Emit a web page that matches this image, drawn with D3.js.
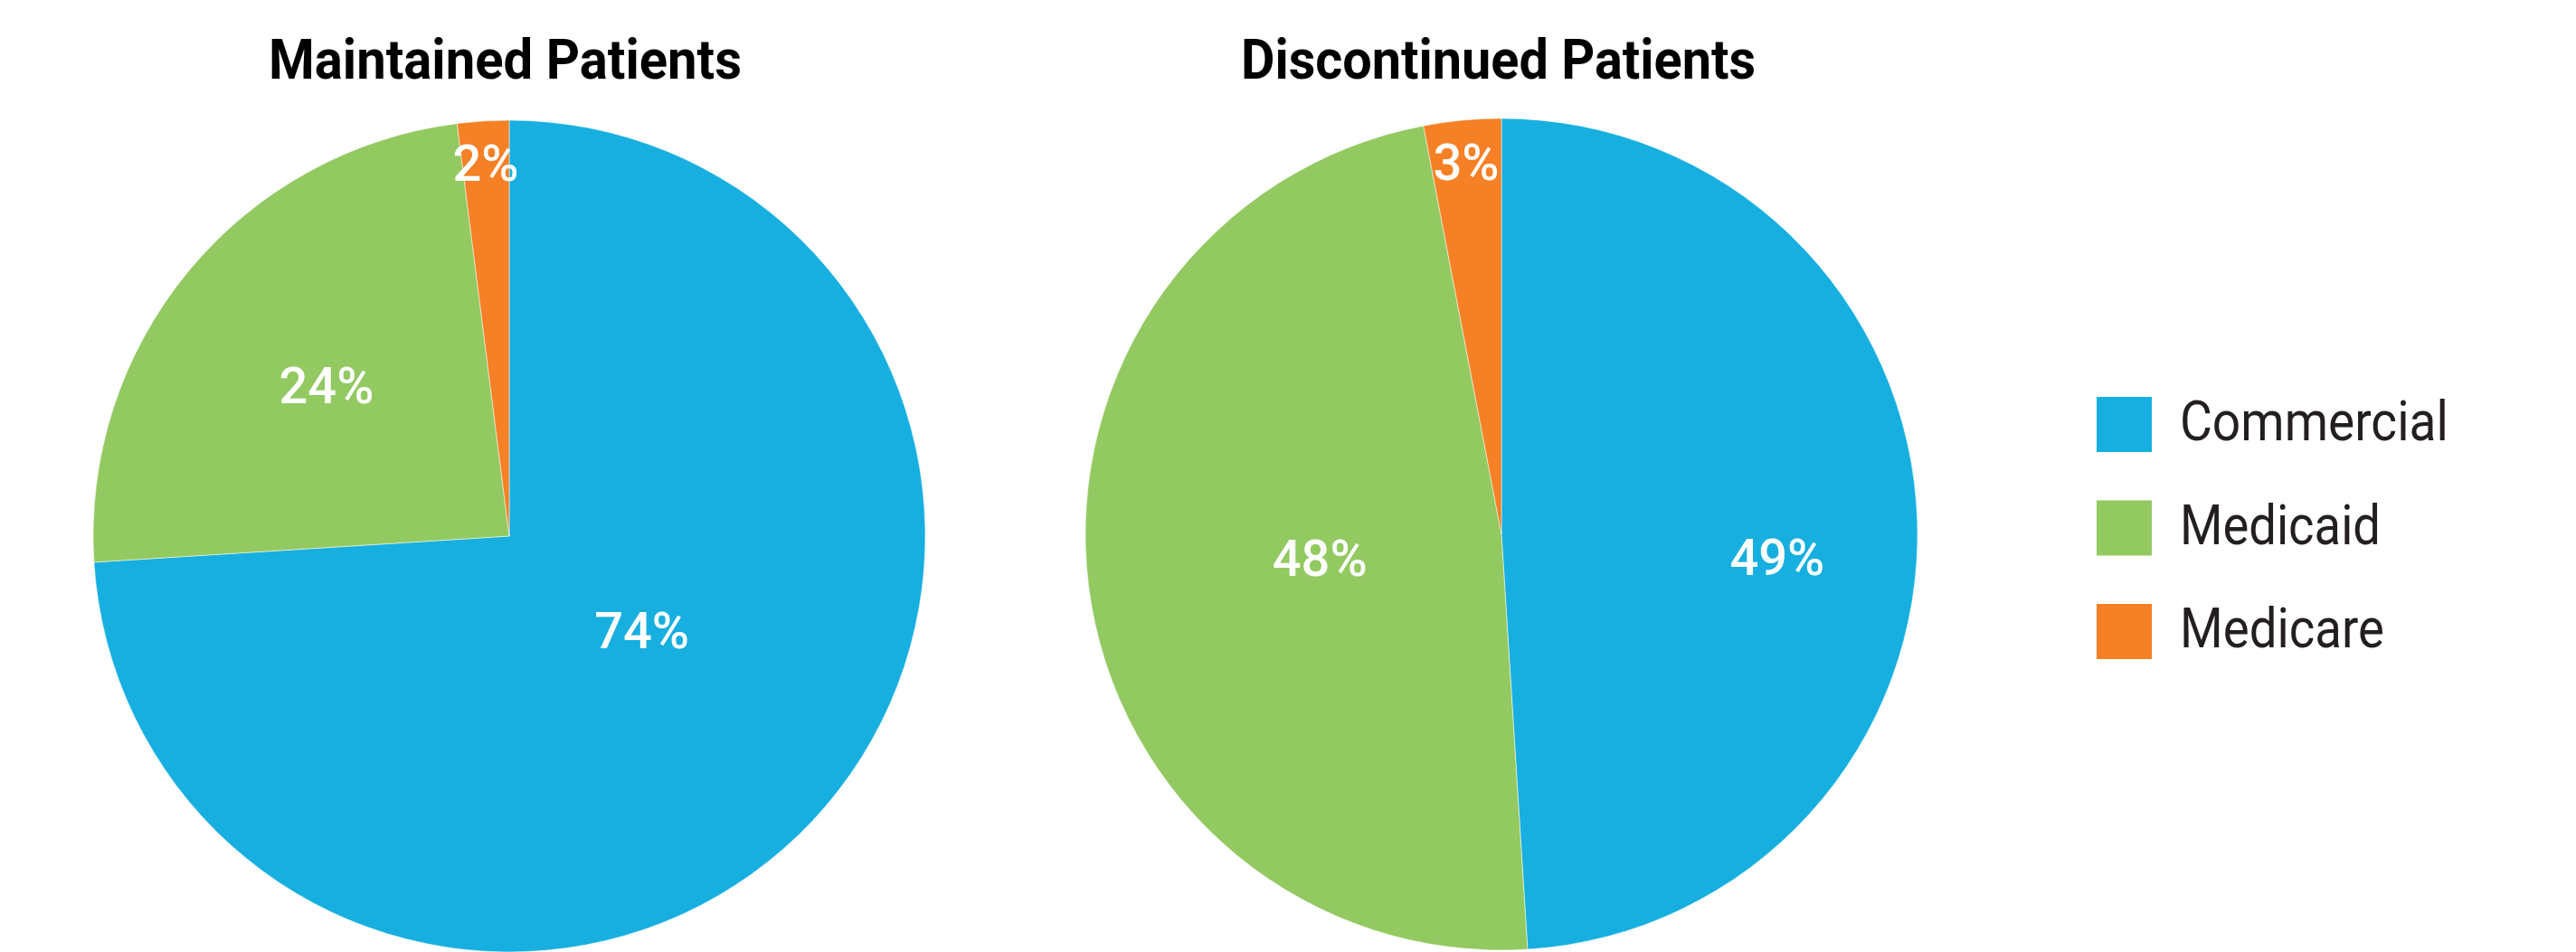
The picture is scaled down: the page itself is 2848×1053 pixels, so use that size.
<!DOCTYPE html>
<html>
<head>
<meta charset="utf-8">
<script src="https://cdn.jsdelivr.net/npm/d3@7"></script>
<style>
  html, body { margin: 0; padding: 0; background: #ffffff; }
  svg { display: block; }
</style>
</head>
<body>
<svg id="chart"></svg>
<script>
// categories and values (percent)
var categories = ["Commercial", "Medicaid", "Medicare"];
var colors = ["#17afdf", "#92c961", "#f58025"];
var chartTitles = ["Maintained Patients", "Discontinued Patients"];
var maintained = [74, 24, 2];
var discontinued = [49, 48, 3];

var width = 2848;
var height = 1053;
var radius = 460;

var svg = d3.select("#chart")
    .attr("width", width)
    .attr("height", height);

var pie = d3.pie().sort(null).value(function(d) { return d; });
var arc = d3.arc().innerRadius(0).outerRadius(radius);

// layout for each pie (centre, title, label radius as share of R, label angle nudge in degrees)
var charts = [
    { title: chartTitles[0], values: maintained, cx: 563, cy: 593, titleX: 297, titleW: 523,
      labelR: [0.39, 0.57, 0.9], labelNudge: [-8, 0, 0] },
    { title: chartTitles[1], values: discontinued, cx: 1660, cy: 591, titleX: 1372, titleW: 569,
      labelR: [0.665, 0.44, 0.9], labelNudge: [6.5, 0, 0] }
];

charts.forEach(function(c) {
    var g = svg.append("g")
        .attr("transform", "translate(" + c.cx + "," + c.cy + ")");

    var slices = pie(c.values);

    g.selectAll("path")
        .data(slices)
        .enter().append("path")
        .attr("d", arc)
        .attr("fill", function(d, i) { return colors[i]; })
        .attr("stroke", "#ffffff")
        .attr("stroke-opacity", 0.5)
        .attr("stroke-width", 1);

    // percent labels
    g.selectAll("text.pct")
        .data(slices)
        .enter().append("text")
        .attr("class", "pct")
        .attr("transform", function(d, i) {
            var a = (d.startAngle + d.endAngle) / 2 + c.labelNudge[i] * Math.PI / 180;
            var r = radius * c.labelR[i];
            return "translate(" + (Math.sin(a) * r) + "," + (-Math.cos(a) * r) + ")";
        })
        .attr("dy", "0.36em")
        .style("text-anchor", "middle")
        .style("font-family", "Roboto, sans-serif")
        .style("font-weight", 500)
        .style("font-size", "56px")
        .attr("fill", "#ffffff")
        .text(function(d) { return d.data + "%"; });

    // title
    svg.append("text")
        .attr("x", c.titleX)
        .attr("y", 87)
        .style("text-anchor", "start")
        .style("font-family", "Roboto, sans-serif")
        .style("font-weight", 700)
        .style("font-size", "62px")
        .attr("textLength", c.titleW)
        .attr("lengthAdjust", "spacingAndGlyphs")
        .attr("fill", "#000000")
        .text(c.title);
});

// legend
var legend = svg.append("g")
    .attr("transform", "translate(2318,439)");

var legendStep = 114.5;

var items = legend.selectAll("g")
    .data(categories)
    .enter().append("g")
    .attr("transform", function(d, i) { return "translate(0," + (i * legendStep) + ")"; });

items.append("rect")
    .attr("width", 61)
    .attr("height", 61)
    .attr("fill", function(d, i) { return colors[i]; });

items.append("text")
    .attr("x", 92)
    .attr("y", 48)
    .style("font-family", "Roboto, sans-serif")
    .style("font-weight", 400)
    .style("font-size", "62px")
    .attr("textLength", function(d, i) { return [297, 222, 226][i]; })
    .attr("lengthAdjust", "spacingAndGlyphs")
    .attr("fill", "#231f20")
    .text(function(d) { return d; });
</script>
</body>
</html>
